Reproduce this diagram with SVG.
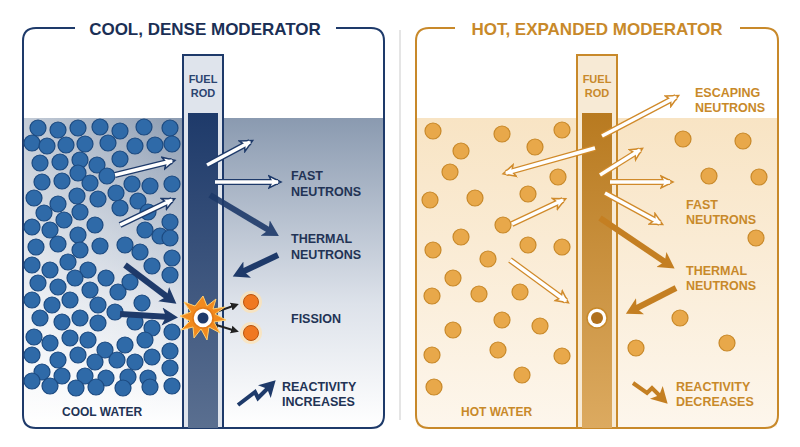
<svg xmlns="http://www.w3.org/2000/svg" width="800" height="447" viewBox="0 0 800 447">
<defs>
<style>
.t{font-family:"Liberation Sans",Arial,sans-serif;font-weight:bold}
.bd{fill:#2f6aa8;stroke:#1c4a80;stroke-width:1.2}
.od{fill:#e8a84a;stroke:#c8892a;stroke-width:1.2}
.wb{stroke:#1e3a6a;stroke-width:6;fill:none}
.wi{stroke:#fff;stroke-width:3.5;fill:none}
.wo{stroke:#d08a2a;stroke-width:6;fill:none}
.nv{stroke:#1e3a6a;stroke-width:6;fill:none}
.or{stroke:#c47f22;stroke-width:6;fill:none}
</style>
<marker id="hb" markerUnits="userSpaceOnUse" markerWidth="20" markerHeight="20" refX="10" refY="8" orient="auto"><path d="M1,2 L13,8 L1,14 L4,8Z" fill="#fff" stroke="#1e3a6a" stroke-width="1.5"/></marker>
<marker id="ho" markerUnits="userSpaceOnUse" markerWidth="20" markerHeight="20" refX="10" refY="8" orient="auto"><path d="M1,2 L13,8 L1,14 L4,8Z" fill="#fff" stroke="#d08a2a" stroke-width="1.5"/></marker>
<marker id="hn" markerUnits="userSpaceOnUse" markerWidth="22" markerHeight="22" refX="8" refY="10" orient="auto"><path d="M0,1 L16,10 L0,19 L4,10Z" fill="#1e3a6a"/></marker>
<marker id="hr" markerUnits="userSpaceOnUse" markerWidth="22" markerHeight="22" refX="8" refY="10" orient="auto"><path d="M0,1 L16,10 L0,19 L4,10Z" fill="#c47f22"/></marker>
<marker id="hk" markerUnits="userSpaceOnUse" markerWidth="10" markerHeight="10" refX="5" refY="5" orient="auto"><path d="M0,1 L8,5 L0,9Z" fill="#222"/></marker>
<linearGradient id="gw" x1="0" y1="0" x2="0" y2="1"><stop offset="0" stop-color="#8a9ab0"/><stop offset="0.6" stop-color="#dde2ea"/><stop offset="1" stop-color="#fff"/></linearGradient>
<linearGradient id="gwl" x1="0" y1="0" x2="1" y2="0"><stop offset="0" stop-color="#fff" stop-opacity="0.5"/><stop offset="1" stop-color="#fff" stop-opacity="0"/></linearGradient>
<linearGradient id="gr" x1="0" y1="0" x2="0" y2="1"><stop offset="0" stop-color="#1e3a6a"/><stop offset="1" stop-color="#5a6f90"/></linearGradient>
<linearGradient id="go" x1="0" y1="0" x2="0" y2="1"><stop offset="0" stop-color="#b87a20"/><stop offset="1" stop-color="#dcaa60"/></linearGradient>
<linearGradient id="gh" x1="0" y1="0" x2="0" y2="1"><stop offset="0" stop-color="#f8e4c4"/><stop offset="1" stop-color="#fdf6ec"/></linearGradient>
</defs>
<rect width="800" height="447" fill="#fff"/>
<line x1="400" y1="30" x2="400" y2="420" stroke="#ddd" stroke-width="1.5"/>

<!-- LEFT -->
<rect x="23" y="118" width="360" height="309" fill="url(#gw)"/>
<rect x="23" y="118" width="160" height="309" fill="url(#gwl)"/>
<path d="M75,28 H36 Q23,28 23,41 V415 Q23,428 36,428 H371 Q384,428 384,415 V41 Q384,28 371,28 H336" fill="none" stroke="#1e3a6a" stroke-width="2"/>
<text class="t" x="205" y="35" font-size="17" fill="#1b2f55" text-anchor="middle">COOL, DENSE MODERATOR</text>
<g id="bluedots">
<g class="bd">
<circle cx="38" cy="128" r="8"/><circle cx="58" cy="130" r="8"/><circle cx="78" cy="128" r="8"/><circle cx="100" cy="127" r="8"/><circle cx="120" cy="131" r="8"/><circle cx="144" cy="127" r="8"/><circle cx="170" cy="128" r="8"/>
<circle cx="32" cy="143" r="8"/><circle cx="47" cy="146" r="8"/><circle cx="66" cy="145" r="8"/><circle cx="85" cy="144" r="8"/><circle cx="108" cy="143" r="8"/><circle cx="135" cy="146" r="8"/><circle cx="155" cy="145" r="8"/><circle cx="172" cy="144" r="8"/>
<circle cx="40" cy="163" r="8"/><circle cx="60" cy="162" r="8"/><circle cx="80" cy="160" r="8"/><circle cx="97" cy="165" r="8"/><circle cx="120" cy="159" r="8"/>
<circle cx="42" cy="182" r="8"/><circle cx="62" cy="181" r="8"/><circle cx="78" cy="173" r="8"/><circle cx="90" cy="183" r="8"/><circle cx="107" cy="176" r="8"/><circle cx="132" cy="184" r="8"/><circle cx="150" cy="186" r="8"/><circle cx="172" cy="184" r="8"/>
<circle cx="34" cy="198" r="8"/><circle cx="58" cy="204" r="8"/><circle cx="77" cy="196" r="8"/><circle cx="98" cy="199" r="8"/><circle cx="116" cy="193" r="8"/><circle cx="138" cy="201" r="8"/><circle cx="120" cy="208" r="8"/>
<circle cx="44" cy="213" r="8"/><circle cx="64" cy="220" r="8"/><circle cx="80" cy="212" r="8"/><circle cx="95" cy="225" r="8"/><circle cx="148" cy="212" r="8"/><circle cx="170" cy="222" r="8"/>
<circle cx="32" cy="227" r="8"/><circle cx="50" cy="230" r="8"/><circle cx="78" cy="235" r="8"/><circle cx="100" cy="246" r="8"/><circle cx="145" cy="230" r="8"/><circle cx="160" cy="236" r="8"/><circle cx="170" cy="238" r="8"/>
<circle cx="36" cy="247" r="8"/><circle cx="58" cy="244" r="8"/><circle cx="80" cy="250" r="8"/><circle cx="125" cy="245" r="8"/><circle cx="140" cy="252" r="8"/><circle cx="172" cy="258" r="8"/>
<circle cx="32" cy="265" r="8"/><circle cx="50" cy="270" r="8"/><circle cx="68" cy="262" r="8"/><circle cx="88" cy="270" r="8"/><circle cx="106" cy="278" r="8"/><circle cx="152" cy="266" r="8"/><circle cx="170" cy="275" r="8"/>
<circle cx="38" cy="283" r="8"/><circle cx="58" cy="287" r="8"/><circle cx="75" cy="278" r="8"/><circle cx="90" cy="290" r="8"/><circle cx="118" cy="292" r="8"/><circle cx="130" cy="282" r="8"/><circle cx="142" cy="303" r="8"/>
<circle cx="32" cy="300" r="8"/><circle cx="52" cy="305" r="8"/><circle cx="70" cy="300" r="8"/><circle cx="98" cy="305" r="8"/><circle cx="115" cy="312" r="8"/>
<circle cx="40" cy="318" r="8"/><circle cx="62" cy="322" r="8"/><circle cx="80" cy="318" r="8"/><circle cx="98" cy="323" r="8"/><circle cx="135" cy="322" r="8"/><circle cx="152" cy="328" r="8"/><circle cx="172" cy="332" r="8"/>
<circle cx="34" cy="337" r="8"/><circle cx="50" cy="343" r="8"/><circle cx="70" cy="338" r="8"/><circle cx="88" cy="340" r="8"/><circle cx="105" cy="350" r="8"/><circle cx="125" cy="345" r="8"/><circle cx="145" cy="340" r="8"/><circle cx="170" cy="351" r="8"/>
<circle cx="32" cy="355" r="8"/><circle cx="58" cy="360" r="8"/><circle cx="78" cy="355" r="8"/><circle cx="95" cy="362" r="8"/><circle cx="117" cy="360" r="8"/><circle cx="135" cy="362" r="8"/><circle cx="152" cy="357" r="8"/><circle cx="170" cy="368" r="8"/>
<circle cx="42" cy="372" r="8"/><circle cx="62" cy="376" r="8"/><circle cx="85" cy="376" r="8"/><circle cx="106" cy="378" r="8"/><circle cx="128" cy="377" r="8"/><circle cx="148" cy="378" r="8"/>
<circle cx="32" cy="381" r="8"/><circle cx="50" cy="386" r="8"/><circle cx="76" cy="388" r="8"/><circle cx="96" cy="387" r="8"/><circle cx="123" cy="388" r="8"/><circle cx="150" cy="387" r="8"/><circle cx="172" cy="386" r="8"/>
</g></g>
<g id="fuelrod-left">
<rect x="183" y="55" width="40" height="373" fill="#dfe4ec" stroke="#1e3a6a" stroke-width="2"/>
<rect x="188" y="113" width="30" height="315" fill="url(#gr)"/>
<text class="t" x="203" y="83" font-size="11" fill="#2b4570" text-anchor="middle" font-weight="normal">FUEL</text>
<text class="t" x="203" y="97" font-size="11" fill="#2b4570" text-anchor="middle" font-weight="normal">ROD</text>
</g>
<g id="connectors-left">
<line class="wb" x1="115" y1="175" x2="172" y2="161" marker-end="url(#hb)"/><line class="wi" x1="115" y1="175" x2="172" y2="161"/>
<line class="wb" x1="120" y1="225" x2="172" y2="200" marker-end="url(#hb)"/><line class="wi" x1="120" y1="225" x2="172" y2="200"/>
<line class="wb" x1="207" y1="165" x2="250" y2="142" marker-end="url(#hb)"/><line class="wi" x1="207" y1="165" x2="250" y2="142"/>
<line class="wb" x1="215" y1="182" x2="278" y2="182" marker-end="url(#hb)"/><line class="wi" x1="215" y1="182" x2="278" y2="182"/>
<line class="nv" x1="210" y1="195" x2="272" y2="232" marker-end="url(#hn)" opacity="0.9"/>
<line class="nv" x1="278" y1="255" x2="240" y2="273" marker-end="url(#hn)"/>
<line class="nv" x1="125" y1="265" x2="170" y2="299" marker-end="url(#hn)"/>
<line class="nv" x1="120" y1="314" x2="170" y2="317" marker-end="url(#hn)"/>
<line x1="213" y1="313" x2="236" y2="305" stroke="#222" stroke-width="2" marker-end="url(#hk)"/>
<line x1="213" y1="324" x2="236" y2="331" stroke="#222" stroke-width="2" marker-end="url(#hk)"/>
</g>
<g id="fission">
<polygon points="203,296 207,306 216,299 213,309 225,307 215,314 226,320 214,322 220,333 209,327 207,340 201,329 194,338 193,327 181,330 190,321 180,316 191,312 184,302 195,306" fill="#f28a1e" stroke="#ffd070" stroke-width="1"/>
<circle cx="203" cy="318" r="10" fill="#fff" stroke="#e07a1a" stroke-width="1.5"/>
<circle cx="203" cy="318" r="5.5" fill="#1e3a6a"/>
<circle cx="251" cy="302" r="11" fill="#ffe2b0" opacity="0.7"/><circle cx="251" cy="302" r="7.5" fill="#f07820" stroke="#b85410"/>
<circle cx="251" cy="333" r="11" fill="#ffe2b0" opacity="0.7"/><circle cx="251" cy="333" r="7.5" fill="#f07820" stroke="#b85410"/>
</g>
<g id="labels-left" class="t" font-size="12.5" fill="#223355">
<text x="291" y="180">FAST</text><text x="291" y="196">NEUTRONS</text>
<text x="291" y="243">THERMAL</text><text x="291" y="259">NEUTRONS</text>
<text x="291" y="323">FISSION</text>
<text x="282" y="391">REACTIVITY</text><text x="282" y="406">INCREASES</text>
<text x="62" y="416" font-size="12">COOL WATER</text>
</g>
<path d="M238,405 L255,392 L258,398 L270,386" fill="none" stroke="#1e3a6a" stroke-width="4" marker-end="url(#hn)"/>

<!-- RIGHT -->
<rect x="417" y="118" width="360" height="309" fill="url(#gh)"/>
<path d="M455,28 H429 Q416,28 416,41 V415 Q416,428 429,428 H765 Q778,428 778,415 V41 Q778,28 765,28 H740" fill="none" stroke="#c8892a" stroke-width="2"/>
<text class="t" x="597" y="35" font-size="17" fill="#c8892a" text-anchor="middle">HOT, EXPANDED MODERATOR</text>
<g id="orangedots" class="od">
<circle cx="433" cy="131" r="8"/><circle cx="461" cy="151" r="8"/><circle cx="502" cy="134" r="8"/><circle cx="535" cy="147" r="8"/><circle cx="562" cy="130" r="8"/>
<circle cx="450" cy="172" r="8"/><circle cx="558" cy="177" r="8"/><circle cx="430" cy="200" r="8"/><circle cx="475" cy="198" r="8"/><circle cx="528" cy="194" r="8"/>
<circle cx="503" cy="225" r="8"/><circle cx="461" cy="237" r="8"/><circle cx="528" cy="245" r="8"/><circle cx="562" cy="247" r="8"/><circle cx="433" cy="250" r="8"/>
<circle cx="488" cy="259" r="8"/><circle cx="453" cy="278" r="8"/><circle cx="520" cy="292" r="8"/><circle cx="432" cy="296" r="8"/><circle cx="479" cy="294" r="8"/>
<circle cx="502" cy="320" r="8"/><circle cx="540" cy="326" r="8"/><circle cx="453" cy="330" r="8"/><circle cx="562" cy="356" r="8"/><circle cx="432" cy="355" r="8"/>
<circle cx="498" cy="350" r="8"/><circle cx="522" cy="375" r="8"/><circle cx="434" cy="387" r="8"/>
<circle cx="683" cy="139" r="8"/><circle cx="743" cy="141" r="8"/><circle cx="709" cy="176" r="8"/><circle cx="759" cy="177" r="8"/><circle cx="756" cy="238" r="8"/>
<circle cx="680" cy="318" r="8"/><circle cx="636" cy="348" r="8"/><circle cx="727" cy="343" r="8"/>
</g>
<g id="fuelrod-right">
<rect x="577" y="55" width="40" height="373" fill="#f7ead5" stroke="#c8892a" stroke-width="2"/>
<rect x="582" y="113" width="30" height="315" fill="url(#go)"/>
<text class="t" x="597" y="83" font-size="11" fill="#c8892a" text-anchor="middle" font-weight="normal">FUEL</text>
<text class="t" x="597" y="97" font-size="11" fill="#c8892a" text-anchor="middle" font-weight="normal">ROD</text>
<circle cx="597" cy="318" r="10" fill="#fff" stroke="#c8892a" stroke-width="1.5"/>
<circle cx="597" cy="318" r="6" fill="#b0701c"/>
</g>
<g id="connectors-right">
<line class="wo" x1="602" y1="136" x2="676" y2="97" marker-end="url(#ho)"/><line class="wi" x1="602" y1="136" x2="676" y2="97"/>
<line class="wo" x1="595" y1="148" x2="506" y2="173" marker-end="url(#ho)"/><line class="wi" x1="595" y1="148" x2="506" y2="173"/>
<line class="wo" x1="600" y1="175" x2="640" y2="150" marker-end="url(#ho)"/><line class="wi" x1="600" y1="175" x2="640" y2="150"/>
<line class="wo" x1="610" y1="182" x2="670" y2="182" marker-end="url(#ho)"/><line class="wi" x1="610" y1="182" x2="670" y2="182"/>
<line class="wo" x1="605" y1="193" x2="660" y2="223" marker-end="url(#ho)"/><line class="wi" x1="605" y1="193" x2="660" y2="223"/>
<line class="wo" x1="512" y1="224" x2="563" y2="200" marker-end="url(#ho)"/><line class="wi" x1="512" y1="224" x2="563" y2="200"/>
<line class="wo" x1="510" y1="260" x2="566" y2="301" marker-end="url(#ho)"/><line class="wi" x1="510" y1="260" x2="566" y2="301"/>
<line class="or" x1="600" y1="218" x2="668" y2="264" marker-end="url(#hr)"/>
<line class="or" x1="676" y1="288" x2="633" y2="310" marker-end="url(#hr)"/>
</g>
<g id="labels-right" class="t" font-size="12.5" fill="#c8892a">
<text x="695" y="97">ESCAPING</text><text x="695" y="112">NEUTRONS</text>
<text x="686" y="209">FAST</text><text x="686" y="224">NEUTRONS</text>
<text x="686" y="275">THERMAL</text><text x="686" y="290">NEUTRONS</text>
<text x="676" y="391">REACTIVITY</text><text x="676" y="406">DECREASES</text>
<text x="461" y="416" font-size="12">HOT WATER</text>
</g>
<path d="M633,383 L647,393 L652,388 L662,398" fill="none" stroke="#c47f22" stroke-width="4" marker-end="url(#hr)"/>
</svg>
